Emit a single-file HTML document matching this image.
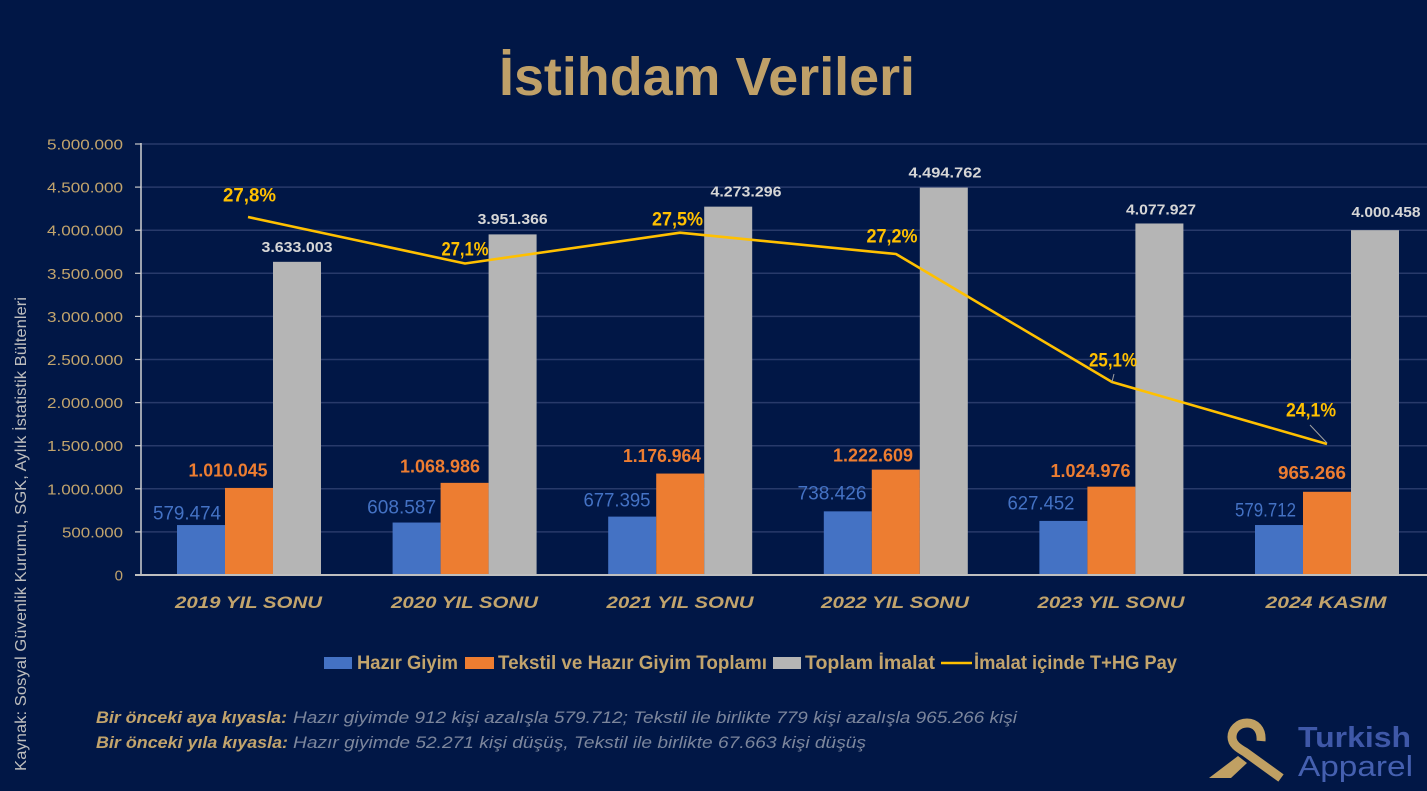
<!DOCTYPE html>
<html><head><meta charset="utf-8"><style>
html,body{margin:0;padding:0;background:#011746;}
svg{display:block;}
text{font-family:"Liberation Sans",sans-serif;}
</style></head><body>
<svg width="1427" height="791" viewBox="0 0 1427 791" xmlns="http://www.w3.org/2000/svg">
<rect x="0" y="0" width="1427" height="791" fill="#011746"/>
<!-- title -->
<text x="707" y="95" text-anchor="middle" font-size="54" font-weight="bold" fill="#BFA068" textLength="416" lengthAdjust="spacingAndGlyphs">İstihdam Verileri</text>

<!-- gridlines -->
<g stroke="#283A6A" stroke-width="1.5">
<line x1="141" y1="144" x2="1427" y2="144"/>
<line x1="141" y1="187.1" x2="1427" y2="187.1"/>
<line x1="141" y1="230.2" x2="1427" y2="230.2"/>
<line x1="141" y1="273.3" x2="1427" y2="273.3"/>
<line x1="141" y1="316.4" x2="1427" y2="316.4"/>
<line x1="141" y1="359.5" x2="1427" y2="359.5"/>
<line x1="141" y1="402.6" x2="1427" y2="402.6"/>
<line x1="141" y1="445.7" x2="1427" y2="445.7"/>
<line x1="141" y1="488.8" x2="1427" y2="488.8"/>
<line x1="141" y1="531.9" x2="1427" y2="531.9"/>
</g>
<g stroke="#C8C8C8" stroke-width="1.2">
<line x1="135" y1="144" x2="141" y2="144"/>
<line x1="135" y1="187.1" x2="141" y2="187.1"/>
<line x1="135" y1="230.2" x2="141" y2="230.2"/>
<line x1="135" y1="273.3" x2="141" y2="273.3"/>
<line x1="135" y1="316.4" x2="141" y2="316.4"/>
<line x1="135" y1="359.5" x2="141" y2="359.5"/>
<line x1="135" y1="402.6" x2="141" y2="402.6"/>
<line x1="135" y1="445.7" x2="141" y2="445.7"/>
<line x1="135" y1="488.8" x2="141" y2="488.8"/>
<line x1="135" y1="531.9" x2="141" y2="531.9"/>
</g>
<line x1="141" y1="143" x2="141" y2="575" stroke="#D0D0D0" stroke-width="1.5"/>

<!-- y tick labels -->
<g font-size="15" fill="#C2A46C" text-anchor="end">
<text x="123" y="149.5" textLength="76" lengthAdjust="spacingAndGlyphs">5.000.000</text>
<text x="123" y="192.6" textLength="76" lengthAdjust="spacingAndGlyphs">4.500.000</text>
<text x="123" y="235.7" textLength="76" lengthAdjust="spacingAndGlyphs">4.000.000</text>
<text x="123" y="278.8" textLength="76" lengthAdjust="spacingAndGlyphs">3.500.000</text>
<text x="123" y="321.9" textLength="76" lengthAdjust="spacingAndGlyphs">3.000.000</text>
<text x="123" y="365" textLength="76" lengthAdjust="spacingAndGlyphs">2.500.000</text>
<text x="123" y="408.1" textLength="76" lengthAdjust="spacingAndGlyphs">2.000.000</text>
<text x="123" y="451.2" textLength="76" lengthAdjust="spacingAndGlyphs">1.500.000</text>
<text x="123" y="494.3" textLength="76" lengthAdjust="spacingAndGlyphs">1.000.000</text>
<text x="123" y="537.4" textLength="61" lengthAdjust="spacingAndGlyphs">500.000</text>
<text x="123" y="580.5">0</text>
</g>

<!-- bars -->
<g fill="#4472C4">
<rect x="177" y="525.05" width="48" height="49.95"/>
<rect x="392.6" y="522.54" width="48" height="52.46"/>
<rect x="608.2" y="516.61" width="48" height="58.39"/>
<rect x="823.8" y="511.35" width="48" height="63.65"/>
<rect x="1039.4" y="520.91" width="48" height="54.09"/>
<rect x="1255" y="525.03" width="48" height="49.97"/>
</g>
<g fill="#ED7D31">
<rect x="225" y="487.93" width="48" height="87.07"/>
<rect x="440.6" y="482.85" width="48" height="92.15"/>
<rect x="656.2" y="473.55" width="48" height="101.45"/>
<rect x="871.8" y="469.61" width="48" height="105.39"/>
<rect x="1087.4" y="486.65" width="48" height="88.35"/>
<rect x="1303" y="491.79" width="48" height="83.21"/>
</g>
<g fill="#B5B5B5">
<rect x="273" y="261.83" width="48" height="313.17"/>
<rect x="488.6" y="234.39" width="48" height="340.61"/>
<rect x="704.2" y="206.64" width="48" height="368.36"/>
<rect x="919.8" y="187.55" width="48" height="387.45"/>
<rect x="1135.4" y="223.48" width="48" height="351.52"/>
<rect x="1351" y="230.16" width="48" height="344.84"/>
</g>

<!-- baseline -->
<line x1="135" y1="575" x2="1427" y2="575" stroke="#BFBFBF" stroke-width="2"/>

<!-- line series -->
<polyline points="248,217 465,263.5 680,232.7 896,254 1112,382 1327,444" fill="none" stroke="#FFC000" stroke-width="2.6" stroke-linejoin="round"/>
<line x1="1112" y1="382" x2="1114" y2="374" stroke="#A0A0A0" stroke-width="1"/>
<line x1="1310" y1="425" x2="1327" y2="443" stroke="#A0A0A0" stroke-width="1"/>

<!-- percent labels -->
<g font-size="19" font-weight="bold" fill="#FFC000" text-anchor="middle">
<text x="249.5" y="201.5" textLength="53" lengthAdjust="spacingAndGlyphs">27,8%</text>
<text x="465" y="255.5" textLength="47" lengthAdjust="spacingAndGlyphs">27,1%</text>
<text x="677.5" y="225.5" textLength="51" lengthAdjust="spacingAndGlyphs">27,5%</text>
<text x="892" y="242.5" textLength="51" lengthAdjust="spacingAndGlyphs">27,2%</text>
<text x="1113" y="366.5" textLength="48" lengthAdjust="spacingAndGlyphs">25,1%</text>
<text x="1311" y="416.5" textLength="50" lengthAdjust="spacingAndGlyphs">24,1%</text>
</g>

<!-- gray labels -->
<g font-size="15" font-weight="bold" fill="#D6D6D6" text-anchor="middle">
<text x="297" y="252" textLength="71" lengthAdjust="spacingAndGlyphs">3.633.003</text>
<text x="512.6" y="224" textLength="70" lengthAdjust="spacingAndGlyphs">3.951.366</text>
<text x="746" y="196.5" textLength="71" lengthAdjust="spacingAndGlyphs">4.273.296</text>
<text x="945" y="177.5" textLength="73" lengthAdjust="spacingAndGlyphs">4.494.762</text>
<text x="1161" y="214.5" textLength="70" lengthAdjust="spacingAndGlyphs">4.077.927</text>
<text x="1386" y="217" textLength="69" lengthAdjust="spacingAndGlyphs">4.000.458</text>
</g>

<!-- blue labels -->
<g font-size="19" fill="#4472C4" text-anchor="middle">
<text x="187" y="519.5" textLength="68" lengthAdjust="spacingAndGlyphs">579.474</text>
<text x="401.6" y="513.5" textLength="69" lengthAdjust="spacingAndGlyphs">608.587</text>
<text x="617" y="506.5" textLength="67" lengthAdjust="spacingAndGlyphs">677.395</text>
<text x="832" y="499.5" textLength="69" lengthAdjust="spacingAndGlyphs">738.426</text>
<text x="1041" y="509.5" textLength="67" lengthAdjust="spacingAndGlyphs">627.452</text>
<text x="1265.5" y="516.5" textLength="61" lengthAdjust="spacingAndGlyphs">579.712</text>
</g>

<!-- orange labels -->
<g font-size="18" font-weight="bold" fill="#ED7D31" text-anchor="middle">
<text x="228" y="476.5" textLength="79" lengthAdjust="spacingAndGlyphs">1.010.045</text>
<text x="440" y="472.5" textLength="80" lengthAdjust="spacingAndGlyphs">1.068.986</text>
<text x="662" y="462" textLength="78" lengthAdjust="spacingAndGlyphs">1.176.964</text>
<text x="873" y="461.5" textLength="80" lengthAdjust="spacingAndGlyphs">1.222.609</text>
<text x="1090.5" y="477" textLength="80" lengthAdjust="spacingAndGlyphs">1.024.976</text>
<text x="1312" y="479" textLength="68" lengthAdjust="spacingAndGlyphs">965.266</text>
</g>

<!-- category labels -->
<g font-size="17" font-weight="bold" font-style="italic" fill="#C2A46C" text-anchor="middle">
<text x="248.5" y="608" textLength="147" lengthAdjust="spacingAndGlyphs">2019 YIL SONU</text>
<text x="464.5" y="608" textLength="147" lengthAdjust="spacingAndGlyphs">2020 YIL SONU</text>
<text x="680" y="608" textLength="147" lengthAdjust="spacingAndGlyphs">2021 YIL SONU</text>
<text x="895" y="608" textLength="148" lengthAdjust="spacingAndGlyphs">2022 YIL SONU</text>
<text x="1111" y="608" textLength="147" lengthAdjust="spacingAndGlyphs">2023 YIL SONU</text>
<text x="1326" y="608" textLength="121" lengthAdjust="spacingAndGlyphs">2024 KASIM</text>
</g>

<!-- legend -->
<rect x="324" y="657" width="28" height="12" fill="#4472C4"/>
<rect x="465" y="657" width="29" height="12" fill="#ED7D31"/>
<rect x="773" y="657" width="28" height="12" fill="#B5B5B5"/>
<line x1="941" y1="663" x2="972" y2="663" stroke="#FFC000" stroke-width="2.6"/>
<g font-size="19" font-weight="bold" fill="#C2A46C">
<text x="357" y="669" textLength="101" lengthAdjust="spacingAndGlyphs">Hazır Giyim</text>
<text x="498" y="669" textLength="269" lengthAdjust="spacingAndGlyphs">Tekstil ve Hazır Giyim Toplamı</text>
<text x="805" y="669" textLength="130" lengthAdjust="spacingAndGlyphs">Toplam İmalat</text>
<text x="974" y="669" textLength="203" lengthAdjust="spacingAndGlyphs">İmalat içinde T+HG Pay</text>
</g>

<!-- footer notes -->
<g font-size="17" font-style="italic">
<text x="96" y="723" font-weight="bold" fill="#C2A46C" textLength="191" lengthAdjust="spacingAndGlyphs">Bir önceki aya kıyasla:</text>
<text x="293" y="723" fill="#7C869C" textLength="724" lengthAdjust="spacingAndGlyphs">Hazır giyimde 912 kişi azalışla 579.712; Tekstil ile birlikte 779 kişi azalışla 965.266 kişi</text>
<text x="96" y="748" font-weight="bold" fill="#C2A46C" textLength="192" lengthAdjust="spacingAndGlyphs">Bir önceki yıla kıyasla:</text>
<text x="293" y="748" fill="#7C869C" textLength="573" lengthAdjust="spacingAndGlyphs">Hazır giyimde 52.271 kişi düşüş, Tekstil ile birlikte 67.663 kişi düşüş</text>
</g>

<!-- vertical source -->
<text transform="translate(26,534) rotate(-90)" text-anchor="middle" font-size="16" fill="#BDBDBD" textLength="474" lengthAdjust="spacingAndGlyphs">Kaynak: Sosyal Güvenlik Kurumu, SGK, Aylık İstatistik Bültenleri</text>

<!-- logo -->
<g fill="#C0A063">
<polygon points="1209,778 1238,756 1247,763 1231,778"/>
</g>
<path d="M 1261 741 C 1262 729, 1255 723, 1247 723 C 1238 723, 1232 730, 1232 737 C 1232 744, 1238 748, 1245 752 L 1281 778" fill="none" stroke="#C0A063" stroke-width="9"/>
<text x="1298" y="747" font-size="29" font-weight="bold" fill="#3F58A8" textLength="113" lengthAdjust="spacingAndGlyphs">Turkish</text>
<text x="1298" y="776" font-size="29" fill="#4560B0" textLength="115" lengthAdjust="spacingAndGlyphs">Apparel</text>
</svg>
</body></html>
